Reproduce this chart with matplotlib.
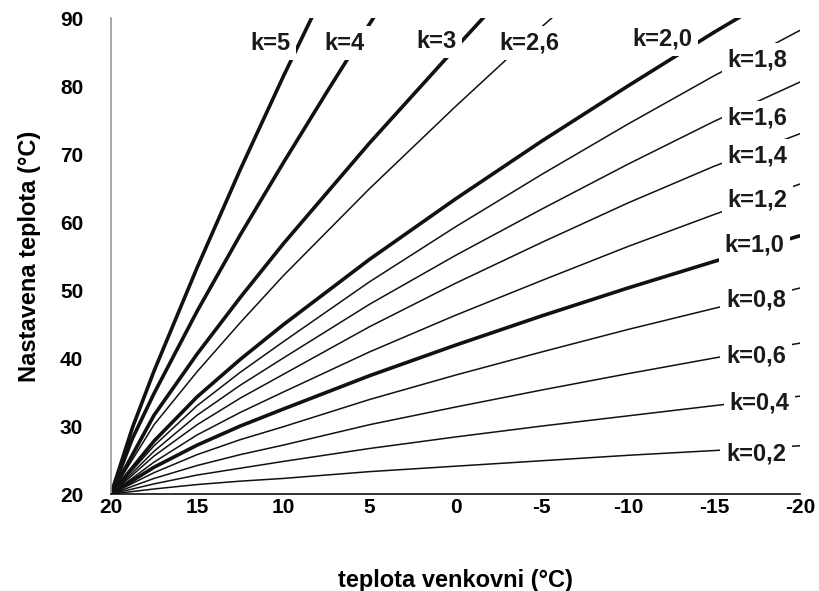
import matplotlib
matplotlib.use("Agg")
import matplotlib.pyplot as plt

# outdoor temperature points (x) and set temperature (y)
x_std = [20, 17.5, 15, 12.5, 10, 5, 0, -5, -10, -15, -20]
y_k02 = [20, 20.75, 21.4, 21.9, 22.3, 23.3, 24.1, 24.9, 25.7, 26.4, 27.1]
y_k04 = [20, 21.5, 22.8, 23.8, 24.8, 26.7, 28.4, 30.0, 31.5, 33.0, 34.4]
y_k06 = [20, 22.3, 24.2, 25.8, 27.2, 30.2, 32.8, 35.3, 37.7, 40.0, 42.2]
y_k08 = [20, 23.15, 25.8, 28.0, 29.9, 33.9, 37.5, 40.9, 44.2, 47.3, 50.3]
y_k10 = [20, 23.95, 27.2, 30.0, 32.5, 37.4, 41.9, 46.2, 50.3, 54.2, 58.0]
y_k12 = [20, 24.7, 28.7, 32.0, 35.0, 40.9, 46.3, 51.4, 56.4, 61.1, 65.6]
y_k14 = [20, 25.6, 30.2, 34.1, 37.6, 44.6, 51.0, 57.0, 62.8, 68.2, 73.0]
y_k16 = [20, 26.3, 31.6, 36.0, 40.0, 47.9, 55.1, 61.9, 68.5, 74.8, 80.6]
y_k18 = [20, 27.1, 33.0, 37.9, 42.4, 51.2, 59.3, 67.0, 74.4, 81.5, 88.2]
y_k20 = [20, 27.8, 34.3, 39.8, 44.9, 54.5, 63.4, 71.9, 80.0, 87.9, 95.4]
x_k26 = [20, 17.5, 15, 12.5, 10, 5, 0, -5, -7.5]
y_k26 = [20, 30.2, 38.0, 45.2, 52.1, 64.9, 77.0, 88.7, 94.3]
x_k3 = [20, 17.5, 15, 12.5, 10, 5, 0, -2.5]
y_k3 = [20, 31.6, 40.6, 48.9, 56.8, 71.6, 85.6, 92.5]
x_k4 = [20, 18.75, 17.5, 15, 12.5, 10, 7.5, 5, 4]
y_k4 = [20, 28.2, 34.8, 46.9, 58.1, 68.7, 79.0, 89.1, 93.0]
x_k5 = [20, 18.75, 17.5, 15, 12.5, 10, 7.5]
y_k5 = [20, 29.8, 38.1, 53.3, 67.7, 81.4, 94.5]

labels = ["k=0,2", "k=0,4", "k=0,6", "k=0,8", "k=1,0", "k=1,2", "k=1,4",
          "k=1,6", "k=1,8", "k=2,0", "k=2,6", "k=3", "k=4", "k=5"]
xs = [x_std] * 10 + [x_k26, x_k3, x_k4, x_k5]
ys = [y_k02, y_k04, y_k06, y_k08, y_k10, y_k12, y_k14, y_k16, y_k18, y_k20,
      y_k26, y_k3, y_k4, y_k5]

# label anchor (x, y, horizontal alignment)
label_pos = [(-15.7, 25.9, "left"), (-15.9, 33.4, "left"), (-15.7, 40.3, "left"),
             (-15.7, 48.5, "left"), (-15.6, 56.6, "left"), (-15.8, 63.2, "left"),
             (-15.8, 69.7, "left"), (-15.8, 75.3, "left"), (-15.8, 83.8, "left"),
             (-12.0, 86.9, "center"), (-4.3, 86.3, "center"), (1.1, 86.6, "center"),
             (6.45, 86.3, "center"), (10.75, 86.3, "center")]
thick = ["k=1,0", "k=2,0", "k=3", "k=4", "k=5"]

plt.rcParams["font.family"] = ["Liberation Sans", "DejaVu Sans"]
plt.rcParams["font.weight"] = "bold"

fig = plt.figure(figsize=(8.19, 5.91), dpi=100)
ax = fig.add_axes([0.1355, 0.164, 0.8415, 0.8055])

for lab, xv, yv, pos in zip(labels, xs, ys, label_pos):
    lw = 2.6 if lab in thick else 1.1
    ax.plot(xv, yv, color="#111111", lw=lw, zorder=2, solid_capstyle="butt",
            solid_joinstyle="round")
    ax.text(pos[0], pos[1], lab, ha=pos[2], va="center", fontsize=17,
            fontweight="bold", color="#1a1a1a", zorder=5,
            bbox=dict(facecolor="white", edgecolor="none", pad=4))

ax.set_xlim(20, -20)
ax.set_ylim(20, 90)
ax.set_xticks([20, 15, 10, 5, 0, -5, -10, -15, -20])
ax.set_xticklabels(["20", "15", "10", "5", "0", "-5", "-10", "-15", "-20"])
ax.set_yticks([20, 30, 40, 50, 60, 70, 80, 90])
ax.tick_params(axis="both", length=0, labelsize=15)
ax.tick_params(axis="x", pad=3)
ax.tick_params(axis="y", pad=20)
for t in ax.get_xticklabels() + ax.get_yticklabels():
    t.set_fontweight("bold")

ax.spines["top"].set_visible(False)
ax.spines["right"].set_visible(False)
ax.spines["left"].set_color("#999999")
ax.spines["left"].set_linewidth(1.2)
ax.spines["bottom"].set_color("#111111")
ax.spines["bottom"].set_linewidth(1.2)

ax.set_xlabel("teplota venkovni (°C)", fontsize=17, fontweight="bold", labelpad=37)
ax.set_ylabel("Nastavena teplota (°C)", fontsize=17, fontweight="bold", labelpad=14)

fig.savefig("out.png", dpi=100)
